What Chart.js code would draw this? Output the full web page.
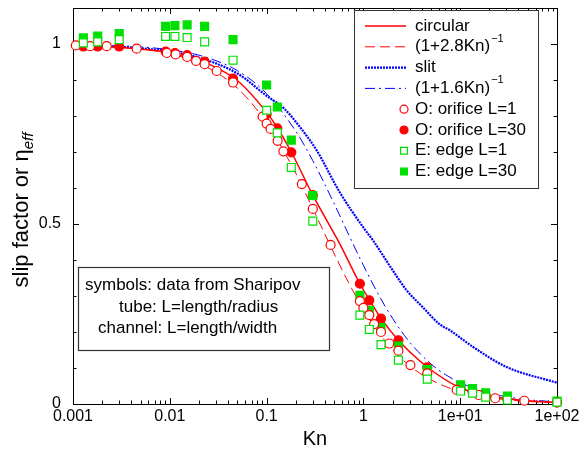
<!DOCTYPE html>
<html>
<head>
<meta charset="utf-8">
<script src="https://cdn.jsdelivr.net/npm/chart.js@4.4.1/dist/chart.umd.min.js"></script>
<style>
  html, body { margin: 0; padding: 0; background: #fff; }
  #wrap { width: 584px; height: 449px; }
</style>
</head>
<body>
<div id="wrap"><canvas id="chart" width="584" height="449"></canvas></div>
<script>
const FONT = '"Liberation Sans", Arial, Helvetica, sans-serif';

// axis ticks
const xTickValues = [0.001, 0.01, 0.1, 1, 10, 100];
const xTickLabels = ['0.001', '0.01', '0.1', '1', '1e+01', '1e+02'];
const yTickValues = [0, 0.5, 1];
const yTickLabels = ['0', '0.5', '1'];

// fitted curves
const fitKn = [0.001, 0.002, 0.005, 0.01, 0.02, 0.05, 0.1, 0.2, 0.3, 0.5, 0.7, 1, 1.5, 2, 3, 5, 7, 10, 20, 50, 100];
const fitCircular = [0.997, 0.994, 0.986, 0.973, 0.947, 0.877, 0.781, 0.641, 0.543, 0.417, 0.338, 0.263, 0.192, 0.152, 0.106, 0.067, 0.049, 0.034, 0.018, 0.007, 0.004];
const fitSlit = [0.998, 0.997, 0.992, 0.984, 0.969, 0.926, 0.862, 0.758, 0.676, 0.556, 0.472, 0.385, 0.294, 0.238, 0.172, 0.111, 0.082, 0.059, 0.030, 0.012, 0.006];

// circular tube and slit curves
const circKn = [0.001, 0.002, 0.005, 0.01, 0.02, 0.05, 0.1, 0.13, 0.18, 0.3, 0.57, 0.92, 1.15, 1.53, 2.3, 4.6, 10, 20, 50, 100];
const circVal = [0.996, 0.994, 0.986, 0.976, 0.955, 0.898, 0.81, 0.766, 0.70, 0.58, 0.445, 0.334, 0.29, 0.237, 0.177, 0.102, 0.045, 0.022, 0.009, 0.004];
const slitKn = [0.001, 0.002, 0.005, 0.01, 0.02, 0.05, 0.1, 0.15, 0.22, 0.33, 0.57, 1, 1.26, 2, 2.79, 4, 6.1, 7.8, 13.5, 30, 100];
const slitVal = [0.997, 0.995, 0.988, 0.979, 0.962, 0.918, 0.856, 0.822, 0.77, 0.704, 0.588, 0.49, 0.454, 0.372, 0.316, 0.272, 0.222, 0.205, 0.159, 0.103, 0.059];

// Sharipov data
const orifice1Kn = [0.00107, 0.0015, 0.00223, 0.00455, 0.0093, 0.0115, 0.0151, 0.0187, 0.0229, 0.0305, 0.045, 0.091, 0.1, 0.11, 0.13, 0.149, 0.231, 0.3, 0.458, 0.92, 1.0, 1.15, 1.29, 1.52, 1.85, 2.3, 3.06, 4.57, 9.2, 15.5, 23, 46, 100];
const orifice1Val = [0.996, 0.994, 0.994, 0.987, 0.975, 0.971, 0.964, 0.953, 0.944, 0.925, 0.893, 0.798, 0.779, 0.764, 0.731, 0.702, 0.611, 0.542, 0.442, 0.286, 0.267, 0.247, 0.222, 0.200, 0.168, 0.148, 0.108, 0.085, 0.039, 0.025, 0.016, 0.009, 0.004];
const sharipovKn = [0.00128, 0.0018, 0.003, 0.00906, 0.0113, 0.0151, 0.0229, 0.045, 0.1, 0.129, 0.18, 0.3, 0.92, 1.15, 1.52, 2.3, 4.57, 10.1, 13.4, 18.3, 30.7, 100];
const orifice30Val = [0.993, 0.993, 0.993, 0.979, 0.975, 0.969, 0.951, 0.904, 0.805, 0.766, 0.699, 0.58, 0.334, 0.288, 0.237, 0.177, 0.102, 0.045, 0.035, 0.024, 0.014, 0.005];
const edge1Val = [1.003, 1.006, 1.012, 1.021, 1.021, 1.018, 1.006, 0.955, 0.816, 0.753, 0.657, 0.508, 0.247, 0.207, 0.165, 0.122, 0.069, 0.036, 0.030, 0.019, 0.011, 0.005];
const edge30Val = [1.017, 1.022, 1.029, 1.049, 1.051, 1.053, 1.049, 1.012, 0.886, 0.825, 0.733, 0.579, 0.302, 0.260, 0.212, 0.161, 0.096, 0.053, 0.043, 0.031, 0.022, 0.008];

const RED = '#ff0000';
const BLUE = '#0000ff';
const GREEN = '#00e000';

const pts = (xs, ys) => xs.map((x, i) => ({ x, y: ys[i] }));

function lineSet(label, xs, ys, color, width, dash) {
    return {
        label, data: pts(xs, ys), showLine: true, borderColor: color, borderWidth: width,
        borderDash: dash, pointRadius: 0, cubicInterpolationMode: 'monotone', order: 10
    };
}

function markSet(label, xs, ys, style, filled, color, r, order) {
    return {
        label, data: pts(xs, ys), showLine: false, pointStyle: style, pointRadius: r,
        pointBorderColor: color, pointBackgroundColor: filled ? color : '#ffffff',
        pointBorderWidth: 1.2, order, clip: false
    };
}

// frame with inward ticks on all four sides
const frame = {
    id: 'frame',
    beforeDatasetsDraw(chart) {
        const { ctx, chartArea: a, scales: { x, y } } = chart;
        ctx.save();
        ctx.strokeStyle = '#000';
        ctx.lineWidth = 1;
        ctx.strokeRect(a.left + 0.5, a.top + 0.5, a.right - a.left, a.bottom - a.top);
        ctx.beginPath();
        for (let d = -3; d < 2; d++) {
            for (let m = 1; m < 10; m++) {
                const px = Math.round(x.getPixelForValue(m * Math.pow(10, d))) + 0.5;
                const len = m === 1 ? 6 : 3.5;
                ctx.moveTo(px, a.bottom); ctx.lineTo(px, a.bottom - len);
                ctx.moveTo(px, a.top); ctx.lineTo(px, a.top + len);
            }
        }
        for (let k = 1; k <= 10; k++) {
            const py = Math.round(y.getPixelForValue(k / 10)) + 0.5;
            const len = k % 5 === 0 ? 6 : 3.5;
            ctx.moveTo(a.left, py); ctx.lineTo(a.left + len, py);
            ctx.moveTo(a.right, py); ctx.lineTo(a.right - len, py);
        }
        ctx.stroke();

        // axis titles
        ctx.fillStyle = '#000';
        ctx.font = '20px ' + FONT;
        ctx.textAlign = 'center';
        ctx.textBaseline = 'alphabetic';
        ctx.fillText('Kn', (a.left + a.right) / 2, 445);

        ctx.translate(28, 210);
        ctx.rotate(-Math.PI / 2);
        ctx.textAlign = 'left';
        ctx.font = '22px ' + FONT;
        const main = 'slip factor or \u03b7';
        const wMain = ctx.measureText(main).width;
        ctx.font = 'italic 15px ' + FONT;
        const wSub = ctx.measureText('eff').width;
        const start = -(wMain + wSub) / 2;
        ctx.font = '22px ' + FONT;
        ctx.fillText(main, start, 0);
        ctx.font = 'italic 15px ' + FONT;
        ctx.fillText('eff', start + wMain, 5);
        ctx.restore();
    }
};

function supText(ctx, base, sup, x, y) {
    ctx.font = '17px ' + FONT;
    ctx.fillText(base, x, y);
    const w = ctx.measureText(base).width;
    ctx.font = '11px ' + FONT;
    ctx.fillText(sup, x + w + 1, y - 8);
}

// legend box and note box
const boxes = {
    id: 'boxes',
    afterDatasetsDraw(chart) {
        const { ctx } = chart;
        ctx.save();
        ctx.fillStyle = '#fff';
        ctx.strokeStyle = '#333';
        ctx.lineWidth = 1;
        ctx.fillRect(354.5, 10.5, 184, 178);
        ctx.strokeRect(354.5, 10.5, 184, 178);
        ctx.fillStyle = '#000';
        ctx.textAlign = 'left';
        ctx.textBaseline = 'middle';
        const rowY = i => 26 + i * 20.8;
        const lines = [
            ['circular', RED, 1.5, []],
            [null, RED, 1, [10, 5]],
            ['slit', BLUE, 2.2, [2, 1]],
            [null, BLUE, 1, [10, 4, 2, 4]]
        ];
        lines.forEach((l, i) => {
            ctx.beginPath();
            ctx.strokeStyle = l[1];
            ctx.lineWidth = l[2];
            ctx.setLineDash(l[3]);
            ctx.moveTo(365, rowY(i)); ctx.lineTo(406, rowY(i));
            ctx.stroke();
        });
        ctx.setLineDash([]);
        ctx.fillStyle = '#000';
        ctx.font = '17px ' + FONT;
        ctx.fillText('circular', 415, rowY(0));
        supText(ctx, '(1+2.8Kn)', '\u22121', 415, rowY(1));
        ctx.font = '17px ' + FONT;
        ctx.fillText('slit', 415, rowY(2));
        supText(ctx, '(1+1.6Kn)', '\u22121', 415, rowY(3));
        const marks = [
            ['O: orifice L=1', 'circle', false, RED],
            ['O: orifice L=30', 'circle', true, RED],
            ['E: edge L=1', 'rect', false, GREEN],
            ['E: edge L=30', 'rect', true, GREEN]
        ];
        marks.forEach((m, i) => {
            const y = rowY(i + 4);
            ctx.strokeStyle = m[3];
            ctx.fillStyle = m[2] ? m[3] : '#fff';
            ctx.lineWidth = 1.2;
            Chart.helpers.drawPoint(ctx, { pointStyle: m[1], radius: m[1] === 'rect' ? 4.8 : 4, borderWidth: 1.2 }, 404, y);
            ctx.fillStyle = '#000';
            ctx.font = '17px ' + FONT;
            ctx.fillText(m[0], 415, y);
        });

        // note box
        ctx.fillStyle = '#fff';
        ctx.strokeStyle = '#333';
        ctx.fillRect(78.5, 267.5, 251, 83);
        ctx.strokeRect(78.5, 267.5, 251, 83);
        ctx.fillStyle = '#000';
        ctx.font = '17px ' + FONT;
        ctx.fillText('symbols: data from Sharipov', 85, 285);
        ctx.fillText('tube: L=length/radius', 119, 307);
        ctx.fillText('channel: L=length/width', 98, 328);
        ctx.restore();
    }
};

new Chart(document.getElementById('chart'), {
    type: 'scatter',
    data: {
        datasets: [
            lineSet('circular', circKn, circVal, RED, 1.5, []),
            lineSet('(1+2.8Kn)^-1', fitKn, fitCircular, RED, 1, [10, 5]),
            lineSet('slit', slitKn, slitVal, BLUE, 2.2, [2, 1]),
            lineSet('(1+1.6Kn)^-1', fitKn, fitSlit, BLUE, 1, [10, 4, 2, 4]),
            markSet('O: orifice L=30', sharipovKn, orifice30Val, 'circle', true, RED, 4.5, 4),
            markSet('E: edge L=30', sharipovKn, edge30Val, 'rect', true, GREEN, 5.6, 3),
            markSet('O: orifice L=1', orifice1Kn, orifice1Val, 'circle', false, RED, 4.5, 2),
            markSet('E: edge L=1', sharipovKn, edge1Val, 'rect', false, GREEN, 5.6, 1)
        ]
    },
    options: {
        responsive: false,
        animation: false,
        events: [],
        layout: { padding: { left: 0, right: 27, top: 8, bottom: 0 } },
        plugins: { legend: { display: false }, tooltip: { enabled: false } },
        scales: {
            x: {
                type: 'logarithmic', min: 0.001, max: 100,
                grid: { display: false, drawTicks: false },
                border: { display: false },
                afterBuildTicks: s => { s.ticks = xTickValues.map(v => ({ value: v })); },
                afterFit: s => { s.height = 45; s.paddingLeft = 0; s.paddingRight = 0; },
                ticks: {
                    autoSkip: false, maxRotation: 0, padding: 3, color: '#000',
                    font: { family: FONT, size: 16 },
                    callback: (v, i) => xTickLabels[i]
                }
            },
            y: {
                min: 0, max: 1.1,
                grid: { display: false, drawTicks: false },
                border: { display: false },
                afterBuildTicks: s => { s.ticks = yTickValues.map(v => ({ value: v })); },
                afterFit: s => { s.width = 73; s.paddingTop = 0; s.paddingBottom = 0; },
                ticks: {
                    padding: 12, color: '#000',
                    font: { family: FONT, size: 16 },
                    callback: (v, i) => yTickLabels[i]
                }
            }
        }
    },
    plugins: [frame, boxes]
});
</script>
</body>
</html>
